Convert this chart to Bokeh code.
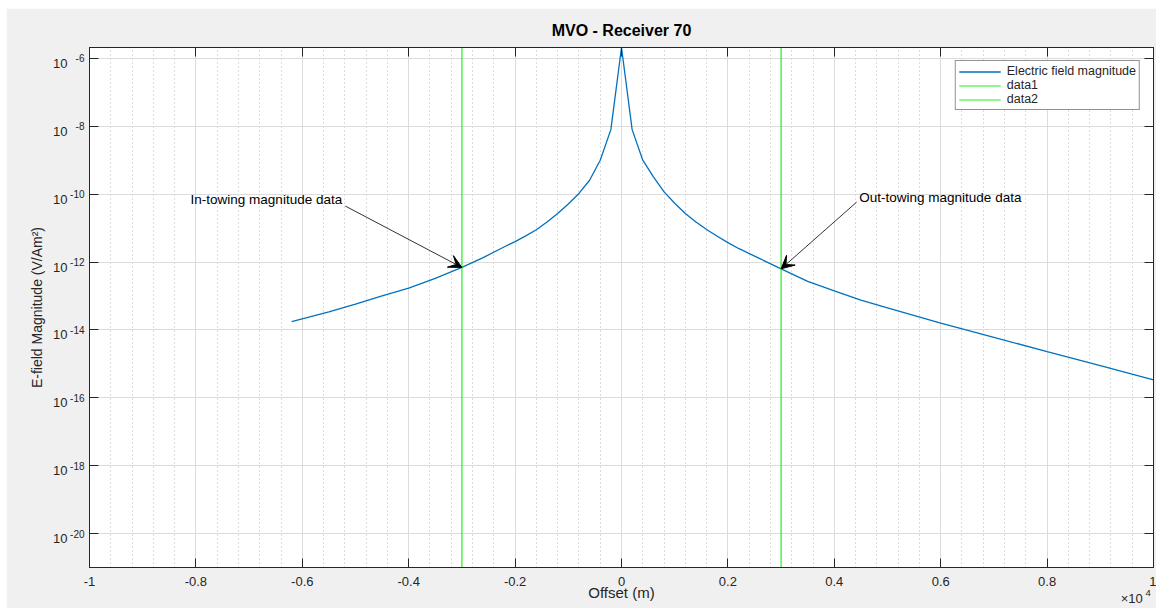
from bokeh.plotting import figure
from bokeh.models import (FixedTicker, CustomJSTickFormatter, LinearAxis, LogAxis, Range1d, LogScale,
                          Legend, LegendItem, Label, Arrow, VeeHead, Spacer)
from bokeh.layouts import column, row
from bokeh.embed import file_html
from bokeh.resources import INLINE

# ---------------- data ----------------
offset_m = [-6200, -5500, -5000, -4500, -4000, -3500, -3000, -2600, -2200, -2000,
            -1800, -1600, -1400, -1200, -1000, -800, -600, -400, -200, 0,
            200, 400, 600, 800, 1000, 1200, 1400, 1600, 1800, 2000,
            2200, 2600, 3000, 3500, 4000, 4500, 5000, 6000, 7000, 8000, 9000, 10000]
e_field = [1.74e-14, 3.39e-14, 5.75e-14, 1.00e-13, 1.70e-13, 3.31e-13, 6.92e-13, 1.35e-12, 2.82e-12, 3.98e-12,
           5.89e-12, 8.91e-12, 1.51e-11, 2.69e-11, 5.13e-11, 1.05e-10, 2.57e-10, 1.00e-09, 7.94e-09, 2.09e-06,
           7.94e-09, 1.00e-09, 3.24e-10, 1.17e-10, 5.37e-11, 2.69e-11, 1.51e-11, 9.12e-12, 5.75e-12, 3.72e-12,
           2.51e-12, 1.26e-12, 6.31e-13, 2.69e-13, 1.41e-13, 7.59e-14, 4.47e-14, 1.58e-14, 6.03e-15, 2.29e-15,
           8.91e-16, 3.39e-16]

y_min = 1e-21
y_max = max(e_field)
x_min, x_max = -10000, 10000

data1_x = [-3000, -3000]
data2_x = [3000, 3000]
marker_y = [y_min, y_max]

x_tick_values = [-10000, -8000, -6000, -4000, -2000, 0, 2000, 4000, 6000, 8000, 10000]
x_tick_labels = ["-1", "-0.8", "-0.6", "-0.4", "-0.2", "0", "0.2", "0.4", "0.6", "0.8", "1"]
x_minor_values = [v for v in range(-10000, 10001, 400) if v not in x_tick_values]
y_tick_values = [1e-20, 1e-18, 1e-16, 1e-14, 1e-12, 1e-10, 1e-08, 1e-06]
y_tick_base = "10"
y_tick_exponents = ["-20", "-18", "-16", "-14", "-12", "-10", "-8", "-6"]

title_text = "MVO - Receiver 70"
x_label = "Offset (m)"
x_scale_base = "×10"      # axis multiplier, drawn near the right end of the x axis
x_scale_exp = "4"
y_label = "E-field Magnitude (V/Am²)"
series_names = ["Electric field magnitude", "data1", "data2"]

# annotation anchors (data units)
in_text_xy = (-8100, 7.13e-11)
in_arrow = (-5190, 4.44e-11, -3000, 6.92e-13)
out_text_xy = (4470, 8.17e-11)
out_arrow = (4420, 5.82e-11, 3000, 6.31e-13)
mult_base_x = 9590       # horizontal centre of "×10"
mult_exp_x = 9900        # horizontal centre of the superscript

FONT = "Liberation Sans"
AX = "#262626"

# ---------------- figure ----------------
shift = 10 ** (5.0 / 34.0)   # moves the "10" part of the y tick labels ~5 px below the exponent
p = figure(width=1150, height=600, x_range=Range1d(x_min, x_max), y_range=Range1d(y_min, y_max),
           y_axis_type="log", output_backend="svg", toolbar_location=None,
           min_border_left=83, min_border_right=3, min_border_top=39, min_border_bottom=40,
           background_fill_color="white", border_fill_color="#f0f0f0",
           outline_line_color=AX, title=title_text)
p.extra_y_ranges = {"base": Range1d(y_min * shift, y_max * shift)}
p.extra_y_scales = {"base": LogScale()}

p.title.align = "center"
p.title.text_font = FONT
p.title.text_font_size = "16px"
p.title.text_font_style = "bold"
p.title.text_color = "black"

xt = FixedTicker(ticks=x_tick_values, minor_ticks=x_minor_values)
yt = FixedTicker(ticks=y_tick_values, minor_ticks=[])

def lookup_formatter(vals, labels, log=False):
    if log:
        cond = "Math.abs(Math.log10(tick) - Math.log10(vals[i])) < 1e-6"
    else:
        cond = "Math.abs(tick - vals[i]) < 1e-6"
    return CustomJSTickFormatter(args=dict(vals=vals, labels=labels), code=f"""
for (let i = 0; i < vals.length; i++) {{ if ({cond}) return labels[i]; }}
return '';
""")

blank = CustomJSTickFormatter(code="return '';")

def style_axis(ax):
    ax.axis_line_color = AX
    ax.major_tick_line_color = AX
    ax.major_tick_in = 9
    ax.major_tick_out = 0
    ax.minor_tick_line_color = None
    ax.major_label_text_font = FONT
    ax.major_label_text_font_size = "13px"
    ax.major_label_text_color = AX
    ax.axis_label_text_font = FONT
    ax.axis_label_text_font_style = "normal"
    ax.axis_label_text_color = AX

def text_only(ax):
    ax.axis_line_color = None
    ax.major_tick_line_color = None

# main x axis: tick marks and tick labels
xa = p.xaxis[0]
xa.ticker = xt
xa.formatter = lookup_formatter(x_tick_values, x_tick_labels)
style_axis(xa)
xa.major_label_standoff = 5

# second row below: superscript of the multiplier + the x-axis title
x_sup = LinearAxis(ticker=FixedTicker(ticks=[mult_exp_x], minor_ticks=[]),
                   formatter=lookup_formatter([mult_exp_x], [x_scale_exp]))
style_axis(x_sup)
text_only(x_sup)
x_sup.major_label_text_font_size = "9.5px"
x_sup.major_label_standoff = 1
x_sup.axis_label = x_label
x_sup.axis_label_text_font_size = "15px"
x_sup.axis_label_standoff = -15
p.add_layout(x_sup, "below")

# third row: the "×10" of the multiplier, pulled up next to its superscript
x_mult = LinearAxis(ticker=FixedTicker(ticks=[mult_base_x], minor_ticks=[]),
                    formatter=lookup_formatter([mult_base_x], [x_scale_base]))
style_axis(x_mult)
text_only(x_mult)
x_mult.major_label_standoff = -13
p.add_layout(x_mult, "below")

# inner left axis: tick marks + exponent (superscript) part of labels
ya = p.yaxis[0]
ya.ticker = yt
ya.formatter = lookup_formatter(y_tick_values, y_tick_exponents, log=True)
style_axis(ya)
ya.major_label_text_font_size = "10px"
ya.major_label_standoff = 5

# outer left axis: the "10" part of labels, plus the axis title
yb = LogAxis(y_range_name="base", ticker=yt,
             formatter=lookup_formatter(y_tick_values, [y_tick_base] * len(y_tick_values), log=True))
style_axis(yb)
text_only(yb)
yb.major_label_standoff = 0
yb.axis_label = y_label
yb.axis_label_text_font_size = "14px"
yb.axis_label_standoff = 5
p.add_layout(yb, "left")

top = LinearAxis(ticker=xt, formatter=blank, major_label_standoff=0)
style_axis(top)
p.add_layout(top, "above")
right = LogAxis(ticker=yt, formatter=blank, major_label_standoff=0)
style_axis(right)
p.add_layout(right, "right")

p.xgrid.ticker = xt
p.ygrid.ticker = yt
p.xgrid.grid_line_color = "#dcdcdc"
p.ygrid.grid_line_color = "#dcdcdc"
p.xgrid.minor_grid_line_color = "#b8b8b8"
p.xgrid.minor_grid_line_dash = "1 3"

# ---------------- series ----------------
r_blue = p.line(offset_m, e_field, line_color="#0072BD", line_width=1.3)
r_d1 = p.line(data1_x, marker_y, line_color="#22ee22", line_width=1.2)
r_d2 = p.line(data2_x, marker_y, line_color="#22ee22", line_width=1.2)

legend = Legend(items=[LegendItem(label=series_names[0], renderers=[r_blue]),
                       LegendItem(label=series_names[1], renderers=[r_d1]),
                       LegendItem(label=series_names[2], renderers=[r_d2])],
                location="top_right", margin=13, padding=3, spacing=-1,
                glyph_width=42, glyph_height=13, label_height=13, label_standoff=6,
                label_text_font=FONT, label_text_font_size="12.5px", label_text_color=AX,
                border_line_color=AX, border_line_width=1, background_fill_color="white",
                background_fill_alpha=1)
p.add_layout(legend)

# ---------------- annotations ----------------
p.add_layout(Label(x=in_text_xy[0], y=in_text_xy[1], text="In-towing magnitude data",
                   text_baseline="middle", text_font=FONT, text_font_size="13.5px", text_color="black"))
p.add_layout(Label(x=out_text_xy[0], y=out_text_xy[1], text="Out-towing magnitude data",
                   text_baseline="middle", text_font=FONT, text_font_size="13.5px", text_color="black"))
for (x0, y0, x1, y1) in (in_arrow, out_arrow):
    p.add_layout(Arrow(x_start=x0, y_start=y0, x_end=x1, y_end=y1,
                       line_color="#333333", line_width=1,
                       end=VeeHead(size=13, fill_color="black", line_color="black", line_width=1)))

layout = column(Spacer(height=8, width=1156),
                row(Spacer(width=6, height=600), p))

open("out.html", "w").write(file_html(layout, INLINE))
